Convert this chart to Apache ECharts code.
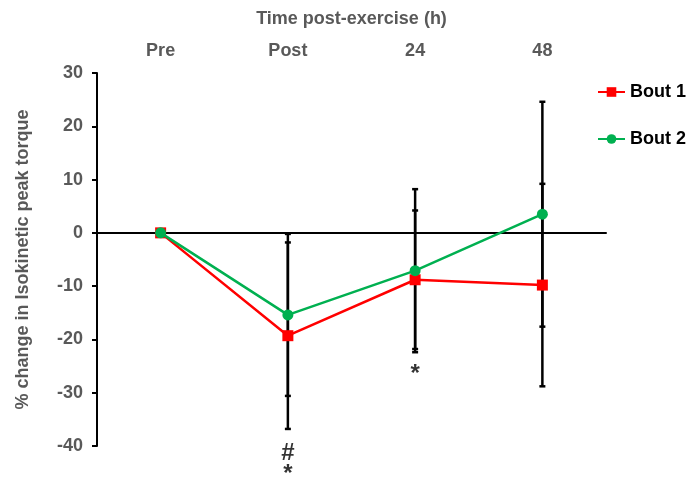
<!DOCTYPE html>
<html>
<head>
<meta charset="utf-8">
<script src="https://cdn.jsdelivr.net/npm/echarts@6/dist/echarts.min.js"></script>
<style>
  html, body { margin: 0; padding: 0; background: #fff; }
  #chart { width: 688px; height: 477px; }
</style>
</head>
<body>
<div id="chart"></div>
<script>
// time points
var categories = ['Pre', 'Post', '24', '48'];
// mean % change
var bout1 = [0, -19.3, -8.8, -9.8];
var bout2 = [0, -15.4, -7.1, 3.5];
// error bar half-widths (SD)
var bout1Err = [0, 17.5, 13.0, 19.0];
var bout2Err = [0, 15.2, 15.3, 21.1];
// significance marks
var markCats = ['Post', 'Post', '24'];
var markVals = [-41.3, -45.4, -26.6];
var markText = ['#', '*', '*'];

var font = 'Arial, "Liberation Sans", sans-serif';

function errData(means, errs) {
  var out = [];
  for (var i = 0; i < means.length; i++) {
    if (errs[i] > 0) out.push([i, means[i] - errs[i], means[i] + errs[i]]);
  }
  return out;
}

function renderErr(params, api) {
  var x = api.value(0);
  var lo = api.coord([x, api.value(1)]);
  var hi = api.coord([x, api.value(2)]);
  var w = 3;
  var st = { stroke: '#000', lineWidth: 2.5 };
  return {
    type: 'group',
    children: [
      { type: 'line', shape: { x1: hi[0], y1: hi[1], x2: lo[0], y2: lo[1] }, style: st },
      { type: 'line', shape: { x1: hi[0] - w, y1: hi[1], x2: hi[0] + w, y2: hi[1] }, style: st },
      { type: 'line', shape: { x1: lo[0] - w, y1: lo[1], x2: lo[0] + w, y2: lo[1] }, style: st }
    ]
  };
}

var chart = echarts.init(document.getElementById('chart'));
var option = {
  animation: false,
  grid: { left: 97, right: 82, top: 73, bottom: 31 },
  legend: {
    orient: 'vertical',
    left: 597,
    top: 83,
    padding: 0,
    itemGap: 29,
    itemWidth: 27,
    itemHeight: 12,
    data: ['Bout 1', 'Bout 2'],
    textStyle: { fontFamily: font, fontWeight: 'bold', fontSize: 18, color: '#000' }
  },
  xAxis: [
    {
      type: 'category',
      data: categories,
      position: 'top',
      axisLine: { show: false, onZero: false },
      axisTick: { show: false },
      axisLabel: { margin: 13, fontFamily: font, fontWeight: 'bold', fontSize: 18, color: '#595959' },
      name: 'Time post-exercise (h)',
      nameLocation: 'middle',
      nameGap: 45,
      nameTextStyle: { fontFamily: font, fontWeight: 'bold', fontSize: 18, color: '#595959' }
    },
    {
      type: 'category',
      data: categories,
      axisLine: { show: true, onZero: true, lineStyle: { color: '#000', width: 2 } },
      axisTick: { show: false },
      axisLabel: { show: false }
    }
  ],
  yAxis: {
    type: 'value',
    min: -40,
    max: 30,
    interval: 10,
    splitLine: { show: false },
    axisLine: { show: true, lineStyle: { color: '#000', width: 2 } },
    axisTick: { show: true, length: 5, lineStyle: { color: '#000', width: 2 } },
    axisLabel: { margin: 14, fontFamily: font, fontWeight: 'bold', fontSize: 18, color: '#595959' },
    name: '% change in Isokinetic peak torque',
    nameLocation: 'middle',
    nameGap: 65,
    nameTextStyle: { fontFamily: font, fontWeight: 'bold', fontSize: 18, color: '#595959' }
  },
  series: [
    {
      type: 'custom',
      xAxisIndex: 1,
      renderItem: renderErr,
      data: errData(bout1, bout1Err),
      z: 1,
      silent: true
    },
    {
      type: 'custom',
      xAxisIndex: 1,
      renderItem: renderErr,
      data: errData(bout2, bout2Err),
      z: 1,
      silent: true
    },
    {
      name: 'Bout 1',
      type: 'line',
      xAxisIndex: 1,
      data: bout1,
      symbol: 'rect',
      symbolSize: 11,
      color: '#FF0000',
      lineStyle: { width: 2.5, color: '#FF0000' },
      itemStyle: { color: '#FF0000' },
      z: 3
    },
    {
      name: 'Bout 2',
      type: 'line',
      xAxisIndex: 1,
      data: bout2,
      symbol: 'circle',
      symbolSize: 11,
      color: '#00B050',
      lineStyle: { width: 2.5, color: '#00B050' },
      itemStyle: { color: '#00B050' },
      z: 4
    },
    {
      type: 'scatter',
      xAxisIndex: 1,
      symbolSize: 0,
      clip: false,
      silent: true,
      data: markCats.map(function (c, i) { return { value: [c, markVals[i]], name: markText[i] }; }),
      label: {
        show: true,
        position: 'inside',
        formatter: function (p) { return p.name; },
        fontFamily: font,
        fontWeight: 'bold',
        fontSize: 24,
        color: '#000'
      }
    }
  ]
};
chart.setOption(option);
</script>
</body>
</html>
